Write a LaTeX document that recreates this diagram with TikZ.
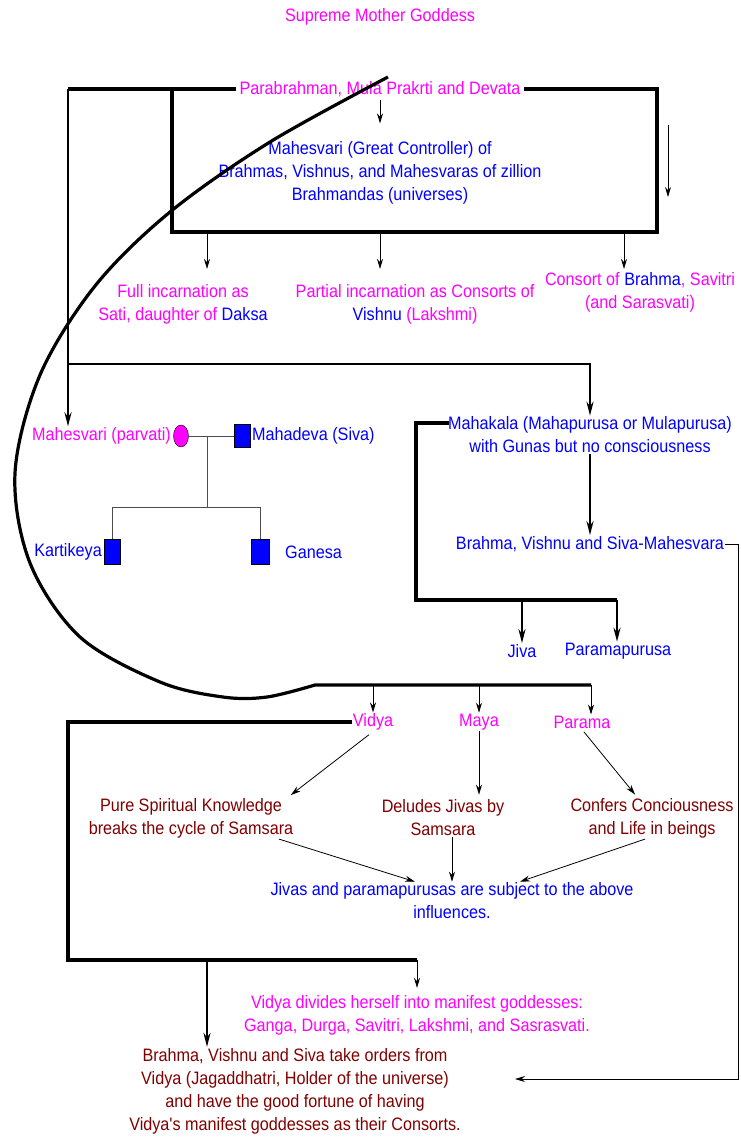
\documentclass[tikz,border=0pt]{standalone}
\usepackage{fontspec}
\newfontfamily\narrowfont[FakeStretch=0.9]{Liberation Sans}
\usetikzlibrary{arrows.meta,shapes.geometric}
\definecolor{mag}{RGB}{255,0,255}
\definecolor{blu}{RGB}{0,0,255}
\definecolor{dred}{RGB}{128,0,0}
\tikzset{
  txt/.style={font=\narrowfont\fontsize{18}{23}\selectfont, align=center, inner sep=1pt},
  heavy/.style={line width=3.2pt},
  heavyarr/.style={line width=2.8pt, -{Stealth[length=14pt,width=7pt]}},
  thinarr/.style={line width=0.8pt, -{Stealth[length=10pt,width=6pt]}},
  wire/.style={line width=0.8pt, black!70},
  sq/.style={draw, fill=blu, minimum width=16pt, minimum height=23pt, inner sep=0pt}
}
\begin{document}
\begin{tikzpicture}[x=1pt,y=-1pt]
  \useasboundingbox (0,0) rectangle (740,1142);
  \node[txt, mag] (title) at (380,17) {Supreme Mother Goddess};
  \node[txt, mag, inner sep=3pt] (para) at (380,89) {Parabrahman, Mula Prakrti and Devata};
  \node[txt, blu] (grt) at (380,173) {Mahesvari (Great Controller) of\\Brahmas, Vishnus, and Mahesvaras of zillion\\Brahmandas (universes)};
  \node[txt, mag] (full) at (183,304) {Full incarnation as\\Sati, daughter of \textcolor{blu}{Daksa}};
  \node[txt, mag] (part) at (415,304) {Partial incarnation as Consorts of\\\textcolor{blu}{Vishnu} (Lakshmi)};
  \node[txt, mag] (cons) at (640,292) {Consort of \textcolor{blu}{Brahma}, Savitri\\(and Sarasvati)};

  \node[txt, mag, anchor=east] (parv) at (172,436) {Mahesvari (parvati)};
  \node[ellipse, draw, fill=mag, minimum width=15pt, minimum height=22pt, inner sep=0pt] (pc) at (181,436) {};
  \node[sq] (ms) at (242,436) {};
  \node[txt, blu, anchor=west] (mahd) at (251,436) {Mahadeva (Siva)};
  \node[sq, minimum height=25pt] (ks) at (112,552) {};
  \node[sq, minimum width=18pt, minimum height=25pt] (gs) at (260,552) {};
  \node[txt, blu, anchor=east] (kart) at (103,552) {Kartikeya};
  \node[txt, blu, anchor=west] (gan) at (284,552) {Ganesa};

  \node[txt, blu] (maha) at (590,435) {Mahakala (Mahapurusa or Mulapurusa)\\with Gunas but no consciousness};
  \node[txt, blu] (bvs) at (590,544) {Brahma, Vishnu and Siva-Mahesvara};
  \node[txt, blu] (jiva) at (522,651) {Jiva};
  \node[txt, blu] (ppur) at (618,651) {Paramapurusa};

  \node[txt, mag] (vidya) at (373,722) {Vidya};
  \node[txt, mag] (maya) at (479,722) {Maya};
  \node[txt, mag] (parama) at (582,722) {Parama};
  \node[txt, dred] (pure) at (191,818) {Pure Spiritual Knowledge\\breaks the cycle of Samsara};
  \node[txt, dred] (delu) at (443,818) {Deludes Jivas by\\Samsara};
  \node[txt, dred] (conf) at (652,818) {Confers Conciousness\\and Life in beings};
  \node[txt, blu] (jivas) at (452,901) {Jivas and paramapurusas are subject to the above\\influences.};
  \node[txt, mag] (vdiv) at (417,1015) {Vidya divides herself into manifest goddesses:\\Ganga, Durga, Savitri, Lakshmi, and Sasrasvati.};
  \node[txt, dred] (orders) at (295,1091) {Brahma, Vishnu and Siva take orders from\\Vidya (Jagaddhatri, Holder of the universe)\\and have the good fortune of having\\Vidya's manifest goddesses as their Consorts.};

  \coordinate (tl) at (68,89);
  \coordinate (tr) at (657,89);
  \coordinate (bl) at (172,232);
  \coordinate (br) at (657,232);
  \coordinate (b1) at (207,232);
  \coordinate (b2) at (380,232);
  \coordinate (b3) at (624,232);
  \coordinate (fa) at (668,125);
  \coordinate (fb) at (668,197);
  \coordinate (ml) at (68,364);
  \coordinate (mk) at (449,423);
  \coordinate (jl) at (416,600);
  \coordinate (jr) at (617,600);
  \coordinate (rb) at (738,1079);
  \coordinate (oi) at (515,1079);
  \coordinate (fm) at (207,436);
  \coordinate (fk) at (112,507);
  \coordinate (fg) at (260,507);
  \coordinate (cv) at (315,685);
  \coordinate (ce) at (591,685);
  \coordinate (vl) at (68,960);
  \coordinate (vm) at (207,960);
  \coordinate (vr) at (417,960);

  \draw[heavy] (para.west) -- (tl);
  \draw[heavy] (para.east) -- (tr) -- (br) -- (bl) -- (bl |- tl);
  \draw[heavyarr] (tl) -- (tl |- parv.north);
  \draw[thinarr, shorten >=17pt] (para.south) -- (grt.north);
  \draw[thinarr] (fa) -- (fb);
  \draw[thinarr, shorten >=14pt] (b1) -- (b1 |- full.north);
  \draw[thinarr, shorten >=14pt] (b2) -- (b2 |- part.north);
  \draw[thinarr, shorten >=2pt] (b3) -- (b3 |- cons.north);

  \draw[wire] (pc) -- (ms);
  \draw[wire] (fm) -- (fm |- fk);
  \draw[wire] (ks) -- (fk) -- (fg) -- (gs);

  \draw[heavyarr] (ml) -| (maha.north);
  \draw[heavy] (mk) -| (jl) -- (jr);
  \draw[heavyarr] (jiva.north |- jl) -- (jiva.north);
  \draw[heavyarr] (jr) -- (jr |- ppur.north);
  \draw[heavyarr] (maha.south) -- (bvs.north);
  \draw[thinarr] (bvs.east) -| (rb) -- (oi);

  \draw[heavy] plot[smooth, tension=0.55] coordinates {(388,77) (270,142) (170,212) (95,286) (40,375) (15,473) (30,563) (80,637) (160,682) (223,697) (267,697) (cv)} -- (ce);
  \draw[thinarr] (vidya.north |- ce) -- (vidya.north);
  \draw[thinarr] (maya.north |- ce) -- (maya.north);
  \draw[thinarr] (ce) -- (ce |- parama.north);

  \draw[heavy] (vidya.west) -| (vl) -- (vr);
  \draw[thinarr, shorten >=6pt] (vr) -- (vdiv.north);
  \draw[heavyarr] (vm) -- (vm |- orders.north);

  \draw[thinarr, shorten <=5pt, shorten >=3pt] (vidya.south) -- ([xshift=-6pt]pure.north east);
  \draw[thinarr, shorten >=4pt] (maya.south) -- (maya.south |- delu.north);
  \draw[thinarr, shorten <=3pt, shorten >=3pt] (parama.south) -- ([xshift=-15pt]conf.north);
  \draw[thinarr] ([xshift=88pt]pure.south) -- ([xshift=-37pt]jivas.north);
  \draw[thinarr] (jivas.north |- delu.south) -- (jivas.north);
  \draw[thinarr] ([xshift=-7pt]conf.south) -- ([xshift=68pt]jivas.north);
\end{tikzpicture}
\end{document}
